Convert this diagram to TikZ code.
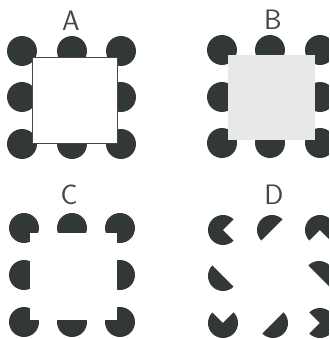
\documentclass[tikz,border=0pt]{standalone}
\usepackage{xcolor}
\definecolor{inkdisc}{RGB}{50,56,53}
\definecolor{graycard}{RGB}{232,232,232}
\definecolor{labelgray}{RGB}{70,70,70}
\usepackage{tikz}

\begin{document}
\begin{tikzpicture}[
  x=0.02cm, y=0.02cm,
  % --- figure style: edit visual look here -----------------------------
  disc/.style={fill=inkdisc},
  whitecard/.style={fill=white, draw=labelgray, line width=0.4pt},
  graycard/.style={fill=graycard},
  blankcard/.style={fill=white},
  panel/.style={text=labelgray, font=\fontsize{16}{16}\selectfont\sffamily,
                inner sep=0pt},
  % ---------------------------------------------------------------------
]
  \useasboundingbox (0,0) rectangle (329,339);
  \clip (0,0) rectangle (329,339);

  % Panel labels
  \node[panel] (labA) at (71,318) {A};
  \node[panel] (labB) at (273,319) {B};
  \node[panel] (labC) at (69,144) {C};
  \node[panel] (labD) at (274,144) {D};

  % Panel A -- discs under a white outlined square
  \fill[disc] (22,288) circle[radius=15] (72,288) circle[radius=15] (121,288) circle[radius=15];
  \fill[disc] (22,242) circle[radius=15] (121,242) circle[radius=15];
  \fill[disc] (22,195) circle[radius=15] (72,195) circle[radius=15] (121,195) circle[radius=15];
  \path[whitecard] (32,196) rectangle (117,282);

  % Panel B -- discs under a gray square, no outline
  \fill[disc] (222,289) circle[radius=15] (270,289) circle[radius=15] (320,289) circle[radius=15];
  \fill[disc] (222,242) circle[radius=15] (320,242) circle[radius=15];
  \fill[disc] (222,196) circle[radius=15] (270,196) circle[radius=15] (320,196) circle[radius=15];
  \path[graycard] (228,199) rectangle (315,284);

  % Panel C -- same discs, square left unseen
  \fill[disc] (24,111) circle[radius=15] (72,111) circle[radius=15] (120,111) circle[radius=15];
  \fill[disc] (24,64) circle[radius=15] (120,64) circle[radius=15];
  \fill[disc] (24,17) circle[radius=15] (72,17) circle[radius=15] (120,17) circle[radius=15];
  \path[blankcard] (30,19) rectangle (117,106);

  % Panel D -- the pieces of C turned about
  \fill[disc] (223,109) -- ++(45:15) arc[start angle=45, end angle=315, radius=15] -- cycle;
  \fill[disc] (272,109) ++(45:15) arc[start angle=45, end angle=225, radius=15] -- cycle;
  \fill[disc] (320,109) -- ++(-45:15) arc[start angle=-45, end angle=225, radius=15] -- cycle;

  \fill[disc] (223,63) ++(135:15) arc[start angle=135, end angle=315, radius=15] -- cycle;
  \fill[disc] (319,63) ++(-45:15) arc[start angle=-45, end angle=135, radius=15] -- cycle;

  \fill[disc] (223,16) -- ++(135:15) arc[start angle=135, end angle=405, radius=15] -- cycle;
  \fill[disc] (273,16) ++(-135:15) arc[start angle=-135, end angle=45, radius=15] -- cycle;
  \fill[disc] (320,16) -- ++(225:15) arc[start angle=225, end angle=495, radius=15] -- cycle;
\end{tikzpicture}
\end{document}
